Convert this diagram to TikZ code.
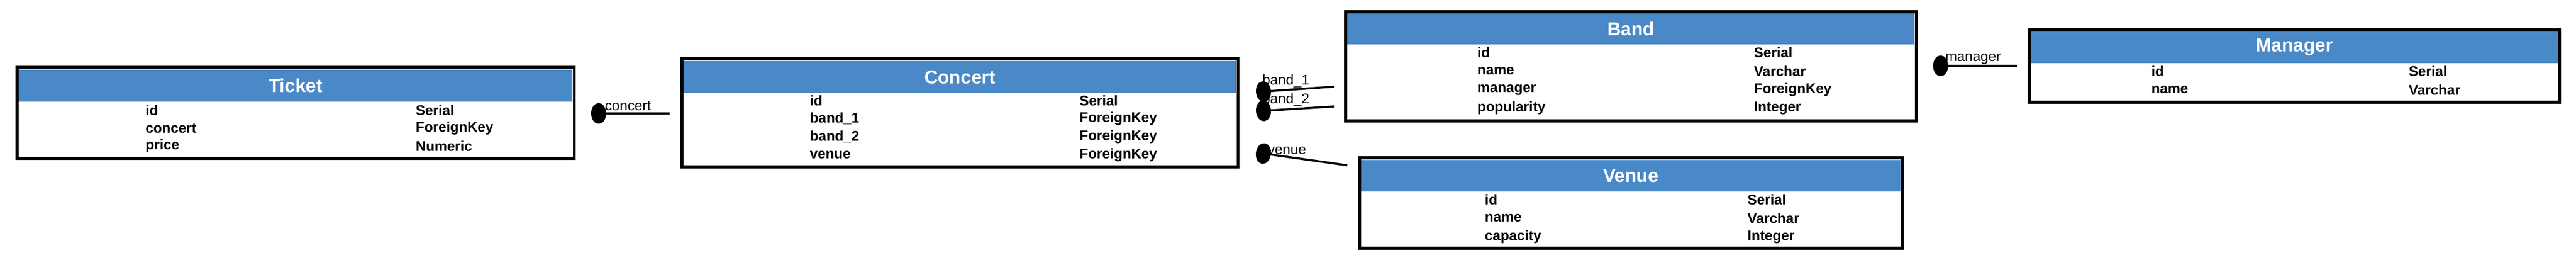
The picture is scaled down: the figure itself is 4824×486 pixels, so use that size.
\documentclass[tikz,border=0pt]{standalone}
\usepackage{fontspec}
\setmainfont{Liberation Sans}
\usetikzlibrary{arrows.meta}
\definecolor{hdrblue}{HTML}{4A89C8}
\tikzset{
  tbl/.style={draw=black, line width=1.6pt, fill=white, inner sep=0pt},
  hdr/.style={fill=hdrblue, text=white, font=\fontsize{10}{12}\selectfont\bfseries, inner sep=0pt},
  fld/.style={anchor=west, inner sep=0pt, font=\fontsize{7.5}{9}\selectfont\bfseries},
  fk/.style={line width=1.1pt, {Circle[length=8pt,width=11pt]}-},
  fklabel/.style={font=\fontsize{7.5}{9}\selectfont, inner sep=1pt}
}
\begin{document}
\begin{tikzpicture}[x=0.01cm, y=-0.01cm]
        \useasboundingbox (0,0) rectangle (4824,486);

        % tables
        \node[tbl, minimum width=10.43cm, minimum height=1.70cm] (ticket) at (553.5,211) {};
        \node[hdr, minimum width=10.37cm, minimum height=0.60cm] (ticket-h) at (553.5,160) {Ticket};
        \node[tbl, minimum width=10.41cm, minimum height=2.02cm] (concert) at (1797.5,211) {};
        \node[hdr, minimum width=10.35cm, minimum height=0.60cm] (concert-h) at (1797.5,144) {Concert};
        \node[tbl, minimum width=10.68cm, minimum height=2.04cm] (band) at (3054,124) {};
        \node[hdr, minimum width=10.62cm, minimum height=0.58cm] (band-h) at (3054,54) {Band};
        \node[tbl, minimum width=9.93cm, minimum height=1.35cm] (manager) at (4296.5,123.5) {};
        \node[hdr, minimum width=9.87cm, minimum height=0.59cm] (manager-h) at (4296.5,88.5) {Manager};
        \node[tbl, minimum width=10.16cm, minimum height=1.69cm] (venue) at (3054,379.5) {};
        \node[hdr, minimum width=10.10cm, minimum height=0.59cm] (venue-h) at (3054,328.5) {Venue};

        % fields: name/type/y
        \foreach \n/\t/\y [count=\i] in {id/Serial/206, concert/ForeignKey/240, price/Numeric/273}{
            \node[fld] (ticket-n\i) at (272,\y) {\n};
            \node[fld] (ticket-t\i) at (778,\y) {\t};
        }
        \foreach \n/\t/\y [count=\i] in {id/Serial/188, band\_1/ForeignKey/222, band\_2/ForeignKey/256, venue/ForeignKey/290}{
            \node[fld] (concert-n\i) at (1516,\y) {\n};
            \node[fld] (concert-t\i) at (2021,\y) {\t};
        }
        \foreach \n/\t/\y [count=\i] in {id/Serial/98, name/Varchar/133, manager/ForeignKey/168, popularity/Integer/202}{
            \node[fld] (band-n\i) at (2766,\y) {\n};
            \node[fld] (band-t\i) at (3284,\y) {\t};
        }
        \foreach \n/\t/\y [count=\i] in {id/Serial/133, name/Varchar/168}{
            \node[fld] (manager-n\i) at (4028,\y) {\n};
            \node[fld] (manager-t\i) at (4510,\y) {\t};
        }
        \foreach \n/\t/\y [count=\i] in {id/Serial/373, name/Varchar/408, capacity/Integer/443}{
            \node[fld] (venue-n\i) at (2780,\y) {\n};
            \node[fld] (venue-t\i) at (3272,\y) {\t};
        }

        % foreign keys
        \coordinate (fk-concert-a) at (1107,212);
        \coordinate (fk-concert-b) at (1254,212);
        \coordinate (fk-band1-a) at (2352,172);
        \coordinate (fk-band1-b) at (2498,162);
        \coordinate (fk-band2-a) at (2352,208);
        \coordinate (fk-band2-b) at (2498,199);
        \coordinate (fk-venue-a) at (2352,285);
        \coordinate (fk-venue-b) at (2523,309);
        \coordinate (fk-manager-a) at (3620,123);
        \coordinate (fk-manager-b) at (3777,123);

        \draw[fk] (fk-concert-a) -- (fk-concert-b);
        \draw[fk] (fk-band1-a) -- (fk-band1-b);
        \draw[fk] (fk-band2-a) -- (fk-band2-b);
        \draw[fk] (fk-venue-a) -- (fk-venue-b);
        \draw[fk] (fk-manager-a) -- (fk-manager-b);

        \node[fklabel] (l-concert) at (1176,198) {concert};
        \node[fklabel] (l-band1) at (2408,152) {band\_1};
        \node[fklabel] (l-band2) at (2408,187) {band\_2};
        \node[fklabel] (l-venue) at (2410,282) {venue};
        \node[fklabel] (l-manager) at (3695,110) {manager};
    \end{tikzpicture}
\end{document}
